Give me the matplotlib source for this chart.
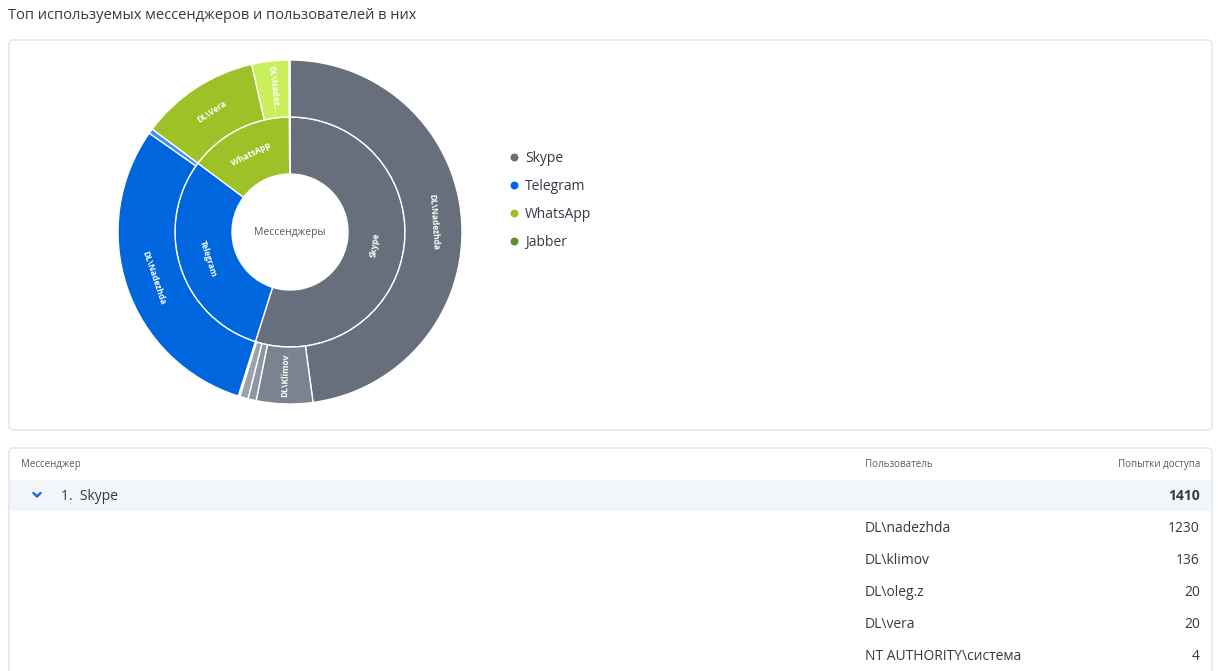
import numpy as np
import matplotlib
matplotlib.use("Agg")
import matplotlib.pyplot as plt
from matplotlib.patches import FancyBboxPatch, Rectangle

plt.rcParams['font.family'] = ['Open Sans', 'DejaVu Sans']

# ---------------- data ----------------
title = "Топ используемых мессенджеров и пользователей в них"
center_label = "Мессенджеры"
messengers = ["Skype", "Telegram", "WhatsApp", "Jabber"]
messenger_totals = [1410, 780, 378, 2]
messenger_colors = ["#666f7b", "#0066de", "#9dc126", "#5b8f2a"]

skype_users = ["DL\\nadezhda", "DL\\klimov", "DL\\oleg.z", "DL\\vera", "NT AUTHORITY\\система"]
skype_counts = [1230, 136, 20, 20, 4]
skype_colors = ["#666f7b", "#7a838f", "#8e96a1", "#9aa2ac", "#b8bec6"]

telegram_users = ["DL\\nadezhda", "DL\\vera"]
telegram_counts = [768, 12]
telegram_colors = ["#0066de", "#3f8ff0"]

whatsapp_users = ["DL\\vera", "DL\\nadezhda"]
whatsapp_counts = [288, 90]
whatsapp_colors = ["#9dc126", "#c9ef5c"]

jabber_users = ["DL\\nadezhda"]
jabber_counts = [2]
jabber_colors = ["#5b8f2a"]

table_header = ["Мессенджер", "Пользователь", "Попытки доступа"]
table_group = "1.  Skype"
table_group_total = 1410

# ---------------- figure ----------------
W, H = 1221, 671
fig = plt.figure(figsize=(W / 100, H / 100), dpi=100)
bg = fig.add_axes([0, 0, 1, 1])
bg.set_xlim(0, W)
bg.set_ylim(H, 0)
bg.axis('off')

txt = "#333a45"
dy = 1.5
bg.text(8, 14 + dy, title, fontsize=10.5, color=txt, va='center', ha='left')

border = "#dde5ee"
bg.add_patch(FancyBboxPatch((9, 40), 1203, 390, boxstyle="round,pad=0,rounding_size=4",
                            ec=border, fc='white', lw=1))
bg.add_patch(FancyBboxPatch((9, 448), 1203, 260, boxstyle="round,pad=0,rounding_size=4",
                            ec=border, fc='white', lw=1))

# legend
leg_y = [157, 185, 213, 241]
for name, col, y in zip(messengers, messenger_colors, leg_y):
    bg.scatter([514], [y], s=22, color=col, zorder=3)
    bg.text(525, y + dy, name, fontsize=10, color=txt, va='center', ha='left')

# table
bg.text(21, 463 + dy, table_header[0], fontsize=7, color="#555c66", va='center', ha='left')
bg.text(865, 463 + dy, table_header[1], fontsize=7, color="#555c66", va='center', ha='left')
bg.text(1200, 463 + dy, table_header[2], fontsize=7, color="#555c66", va='center', ha='right')
bg.add_patch(Rectangle((10, 480), 1201, 31, fc="#f2f5fa", ec='none'))
bg.plot([33.5, 37, 40.5], [493, 496.5, 493], color="#1f6fd6", lw=1.8, solid_capstyle='round')
bg.text(61, 495 + dy, table_group, fontsize=10, color=txt, va='center', ha='left')
bg.text(1200, 495 + dy, str(table_group_total), fontsize=10, color=txt, va='center', ha='right',
        fontweight='bold')
row_y = [527, 559, 591, 623, 655]
for u, c, y in zip(skype_users, skype_counts, row_y):
    bg.text(865, y + dy, u, fontsize=10, color=txt, va='center', ha='left')
    bg.text(1200, y + dy, str(c), fontsize=10, color=txt, va='center', ha='right')

# ---------------- sunburst ----------------
cx, cy = 290, 232
R_out, R_mid, R_in = 172, 115, 58
box = 400
ax = fig.add_axes([(cx - box / 2) / W, (H - cy - box / 2) / H, box / W, box / H])
lim = box / 2 / R_out

inner_vals = np.array(messenger_totals, dtype=float)
outer_vals = np.array(skype_counts + telegram_counts + whatsapp_counts + jabber_counts, dtype=float)
outer_users = skype_users + telegram_users + whatsapp_users + jabber_users
outer_colors = skype_colors + telegram_colors + whatsapp_colors + jabber_colors

ax.pie(inner_vals, radius=R_mid / R_out, startangle=90, counterclock=False,
       colors=messenger_colors,
       wedgeprops=dict(width=(R_mid - R_in) / R_out, edgecolor='white', linewidth=1))
ax.pie(outer_vals, radius=1.0, startangle=90, counterclock=False,
       colors=outer_colors,
       wedgeprops=dict(width=(R_out - R_mid) / R_out, edgecolor='white', linewidth=1))
ax.set_xlim(-lim, lim)
ax.set_ylim(-lim, lim)
ax.set_aspect('equal')
ax.axis('off')


def norm(a):
    a = (a + 180) % 360 - 180
    if a > 90:
        a -= 180
    if a < -90:
        a += 180
    return a


def pretty(u):
    d, n = u.split("\\", 1)
    return d + "\\" + n[:1].upper() + n[1:]


def place_labels(vals, labels, r_lo, r_hi):
    total = vals.sum()
    cum = np.concatenate([[0], np.cumsum(vals)])
    rm = (r_lo + r_hi) / 2 / R_out
    for i, lab in enumerate(labels):
        span = vals[i] / total * 360
        if span < 10:
            continue
        mid = 90 - (cum[i] + vals[i] / 2) / total * 360
        x, y = rm * np.cos(np.radians(mid)), rm * np.sin(np.radians(mid))
        if span >= 25:
            rot = norm(mid - 90)
        else:
            rot = norm(mid)
            if len(lab) > 9:
                lab = lab[:8] + "…"
        ax.text(x, y, lab, rotation=rot, rotation_mode='anchor', ha='center', va='center',
                fontsize=6, fontweight='bold', color='white')


place_labels(inner_vals, messengers, R_in, R_mid)
place_labels(outer_vals, [pretty(u) for u in outer_users], R_mid, R_out)
ax.text(0, 0, center_label, ha='center', va='center', fontsize=7.5, color="#555c66")

fig.savefig("out.png", dpi=100)
